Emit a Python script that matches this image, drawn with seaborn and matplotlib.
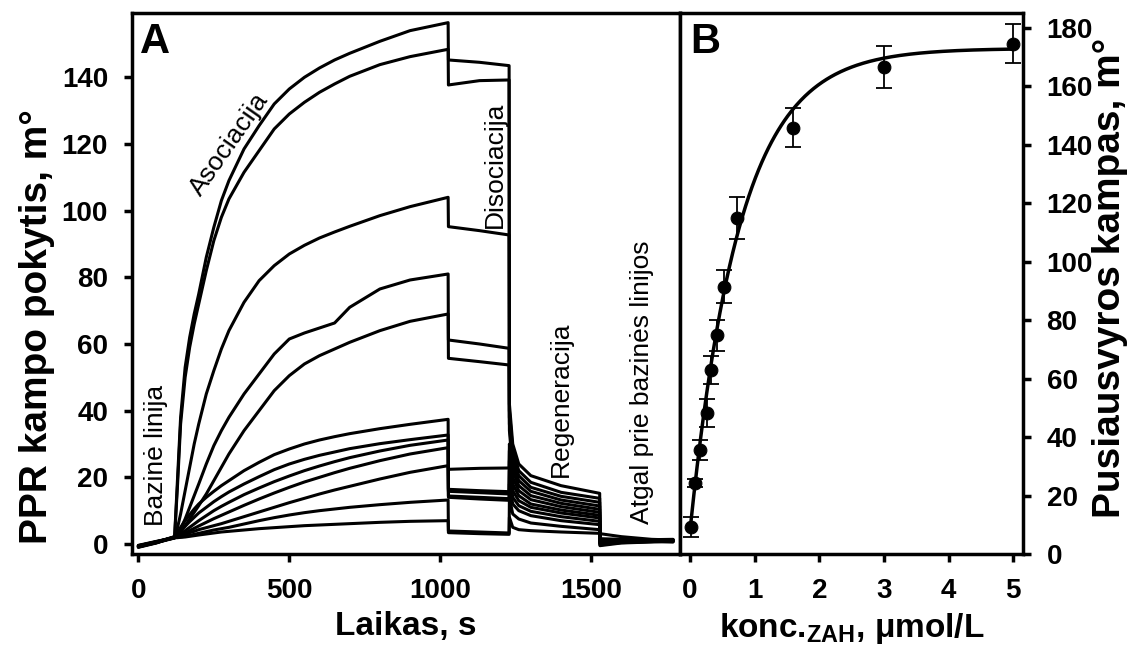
"""
SPR sensorgram (A) and equilibrium binding curve (B).
"""

import numpy as np
import pandas as pd
import matplotlib
matplotlib.use('Agg')
import matplotlib.pyplot as plt
import seaborn as sns

# 1. Panel A data: time grid and response of each sensorgram (m°)
#    baseline | association | dissociation | regeneration | back to baseline
t_s = [0, 60, 120,
       130, 140, 155, 170, 185, 200, 225, 250, 275, 300, 350, 400, 450, 500,
       550, 600, 650, 700, 800, 900, 1026,
       1027, 1130, 1228,
       1229, 1240, 1260, 1300, 1400, 1528,
       1529, 1600, 1700, 1771]

c1 = [-0.8, 0.6, 2.0,
      20, 38, 53, 62, 69, 75, 86, 95, 103, 109, 118.5, 125.5, 132, 136.5,
      140, 142.8, 145.2, 147.2, 150.8, 154, 156.4,
      145.2, 144.5, 143.5,
      42, 30, 24, 20.5, 17.5, 15.2,
      0.2, 0.6, 0.9, 1.0]
c2 = [-0.6, 0.5, 1.9,
      18, 36, 50, 59, 66, 72, 82, 91, 98, 103.5, 111.5, 118, 124.5, 129,
      132.5, 135.5, 138, 140.3, 143.8, 146.2, 148.4,
      137.7, 139, 139.2,
      40, 28, 22, 18.5, 15.5, 13.7,
      0.5, 0.8, 1.0, 0.9]
c3 = [-0.9, 0.4, 2.1,
      5, 9, 16, 23, 30, 36, 45, 52, 58.5, 64, 72.5, 79, 83.5, 87,
      89.6, 91.8, 93.6, 95.3, 98.5, 101.2, 104,
      95.2, 94, 92.7,
      38, 26, 20.5, 17, 14.3, 12.5,
      -0.3, 0.5, 0.8, 1.1]
c4 = [-0.5, 0.7, 1.8,
      3, 4.5, 7.5, 11, 14.5, 18, 24, 29.5, 34, 38, 45, 51, 57, 61.5,
      63.3, 64.8, 66.3, 71, 76.5, 79.2, 81,
      61.2, 60, 58.7,
      36, 24, 19, 15.8, 13.2, 11.4,
      0.8, 1.0, 1.2, 0.8]
c5 = [-1.0, 0.3, 2.2,
      2.8, 3.8, 5.5, 7.5, 9.5, 11.5, 15, 19, 23, 27, 34, 40, 46, 50.5,
      54, 56.5, 58.5, 60.5, 64, 66.8, 69,
      55.7, 54.7, 53.7,
      34, 22, 17.5, 14.5, 12.2, 10.4,
      0.0, 0.4, 0.7, 1.2]
c6 = [-0.7, 0.6, 2.0,
      3.5, 5, 7, 8.8, 10.5, 12, 14, 15.8, 17.5, 19, 22, 24.5, 26.8, 28.5,
      30, 31.2, 32.2, 33.1, 34.6, 35.9, 37.4,
      22.4, 22.7, 22.8,
      30, 20, 16, 13.3, 11.2, 9.5,
      1.0, 1.2, 1.3, 1.4]
c7 = [-0.4, 0.8, 1.9,
      3, 4, 5.3, 6.7, 8, 9.3, 11, 12.7, 14.2, 15.6, 18, 20.2, 22.3, 24,
      25.4, 26.6, 27.6, 28.6, 30.1, 31.3, 32.7,
      16.4, 16.0, 15.7,
      28, 18, 14.5, 12, 10.2, 8.6,
      0.3, 0.7, 0.9, 0.6]
c8 = [-0.9, 0.5, 2.1,
      2.5, 3.1, 4, 5, 6, 7, 8.5, 10, 11.3, 12.5, 14.8, 16.8, 18.7, 20.4,
      22, 23.4, 24.7, 25.9, 27.9, 29.6, 31.2,
      15.8, 15.4, 15.0,
      25, 16, 13, 11, 9.3, 7.8,
      1.3, 1.1, 1.0, 1.3]
c9 = [-0.6, 0.7, 2.0,
      2.2, 2.7, 3.3, 4, 4.7, 5.4, 6.5, 7.6, 8.6, 9.6, 11.6, 13.5, 15.3, 17,
      18.6, 20, 21.4, 22.7, 25, 27, 28.9,
      14.4, 14.0, 13.6,
      22, 14, 11.5, 9.8, 8.2, 6.8,
      -0.5, 0.3, 0.6, 0.7]
c10 = [-0.8, 0.4, 1.8,
       2.1, 2.4, 2.9, 3.4, 3.8, 4.3, 4.9, 5.5, 6.1, 6.8, 8.2, 9.6, 11, 12.4,
       13.7, 15, 16.2, 17.3, 19.5, 21.5, 23.5,
       14.0, 13.5, 13.1,
       18, 12, 10, 8.5, 7, 5.8,
       0.6, 0.9, 1.1, 1.0]
c11 = [-0.5, 0.6, 2.2,
       2, 2.1, 2.3, 2.6, 2.9, 3.2, 3.7, 4.2, 4.6, 5, 6, 7, 7.9, 8.7,
       9.4, 10, 10.5, 11, 11.8, 12.5, 13.2,
       3.9, 3.6, 3.3,
       14, 9, 7.5, 6.3, 5.3, 4.3,
       1.6, 1.4, 1.2, 1.1]
c12 = [-0.7, 0.5, 1.9,
       1.9, 2, 2.1, 2.3, 2.5, 2.7, 3, 3.3, 3.6, 3.8, 4.2, 4.6, 4.9, 5.2,
       5.5, 5.7, 5.9, 6.1, 6.5, 6.8, 7.0,
       3.4, 3.1, 2.9,
       8, 5, 4.3, 4, 3.6, 3.2,
       3.1, 2.2, 1.4, 1.2]

# 2. Panel B data: equilibrium response vs concentration
conc = [0.01, 0.08, 0.16, 0.26, 0.32, 0.41, 0.52, 0.72, 1.59, 3.0, 5.0]
angle = [9.1, 24.3, 35.5, 48.3, 62.9, 74.8, 91.5, 114.9, 145.9, 166.6, 174.6]
angle_err = [3.4, 1.5, 3.4, 4.7, 4.7, 5.3, 5.7, 7.2, 6.7, 7.3, 6.7]

# fitted saturation model: y = y0 + a * (1 - exp(-k * c))
fit_y0, fit_a, fit_k = 8.0, 165.0, 1.3

# 3. Style
sns.set_style('ticks')
plt.rcParams['font.family'] = ['Liberation Sans', 'DejaVu Sans']
plt.rcParams['font.weight'] = 'bold'
plt.rcParams['axes.labelweight'] = 'bold'
plt.rcParams['mathtext.fontset'] = 'custom'
plt.rcParams['mathtext.rm'] = 'Liberation Sans:bold'
plt.rcParams['mathtext.bf'] = 'Liberation Sans:bold'
for key in ['text.color', 'axes.labelcolor', 'axes.edgecolor',
            'xtick.color', 'ytick.color']:
    plt.rcParams[key] = 'black'

W, H = 1148, 657
fig = plt.figure(figsize=(W / 100, H / 100), dpi=100)
axA = fig.add_axes([131.7 / W, 1 - 554 / H, 548.3 / W, 540.7 / H])
axB = fig.add_axes([680 / W, 1 - 554 / H, 343 / W, 540.7 / H])

# 4. Panel A: sensorgrams
curves = [c1, c2, c3, c4, c5, c6, c7, c8, c9, c10, c11, c12]
df = pd.DataFrame({
    't': t_s * len(curves),
    'y': np.concatenate(curves),
    'curve': np.repeat(np.arange(len(curves)), len(t_s)),
})
sns.lineplot(data=df, x='t', y='y', units='curve', estimator=None,
             color='black', lw=2.2, sort=False, legend=False, ax=axA)

axA.set_xlim(-22, 1794)
axA.set_ylim(-3.0, 159.2)
axA.set_xticks([0, 500, 1000, 1500])
axA.set_yticks(np.arange(0, 141, 20))
axA.set_xlabel('Laikas, s', fontsize=24, labelpad=5)
axA.set_ylabel('PPR kampo pokytis, m°', fontsize=28)
axA.yaxis.set_label_coords(-0.14, 0.42)

note = dict(fontsize=19, fontweight='normal', ha='center', va='center')
axA.text(58, 26.7, 'Bazinė linija', rotation=90, **note)
axA.text(301, 120, 'Asociacija', rotation=55, **note)
axA.text(1180, 113.7, 'Disociacija', rotation=90, **note)
axA.text(1399, 43.5, 'Regeneracija', rotation=90, **note)
axA.text(1667, 48.5, 'Atgal prie bazinės linijos', rotation=90, **note)
axA.text(0.015, 0.983, 'A', transform=axA.transAxes, fontsize=30,
         fontweight='bold', ha='left', va='top')

# 5. Panel B: binding isotherm
fit_x = np.linspace(conc[0], conc[-1], 300)
fit_y = fit_y0 + fit_a * (1 - np.exp(-fit_k * fit_x))
sns.lineplot(x=fit_x, y=fit_y, color='black', lw=2.5, ax=axB)
axB.errorbar(conc, angle, yerr=angle_err, fmt='none', ecolor='black',
             elinewidth=1.3, capsize=6, capthick=1.3, zorder=3)
sns.scatterplot(x=conc, y=angle, color='black', s=85, edgecolor='black',
                zorder=4, ax=axB)

axB.set_xlim(-0.155, 5.15)
axB.set_ylim(0, 185)
axB.set_xticks(range(6))
axB.set_yticks(np.arange(0, 181, 20))
axB.yaxis.tick_right()
axB.yaxis.set_label_position('right')
axB.set_xlabel(r'konc.$_{\mathrm{ZAH}}$, μmol/L', fontsize=24, labelpad=5)
axB.set_ylabel('Pusiausvyros kampas, m°', fontsize=28)
axB.yaxis.set_label_coords(1.2, 0.51)
axB.text(0.03, 0.983, 'B', transform=axB.transAxes, fontsize=30,
         fontweight='bold', ha='left', va='top')

for ax in (axA, axB):
    for sp in ax.spines.values():
        sp.set_visible(True)
        sp.set_linewidth(2.5)
    ax.tick_params(direction='out', length=6, width=2.5, labelsize=20, pad=11)
axB.tick_params(axis='y', left=False, right=True)

plt.savefig('out.png', dpi=100)
plt.close()
